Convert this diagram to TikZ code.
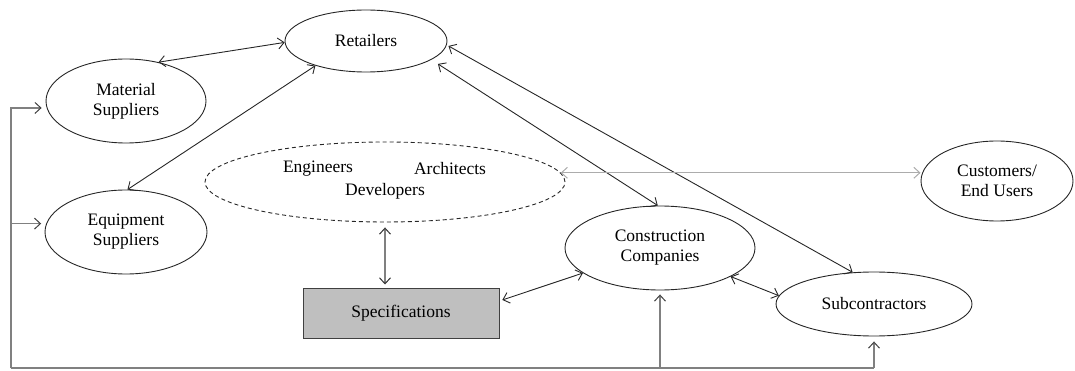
\documentclass[tikz,border=0pt]{standalone}
\usepackage{fontspec}
\setmainfont{Liberation Serif}
\usetikzlibrary{arrows.meta,shapes.geometric}

\tikzset{
  actor/.style={ellipse, draw=black!85, line width=0.9pt, inner sep=0pt,
    align=center, font=\fontsize{17.5pt}{20pt}\selectfont},
  group/.style={ellipse, draw=black!85, line width=0.9pt, inner sep=0pt,
    dash pattern=on 4pt off 3pt},
  lbl/.style={inner sep=0pt, font=\fontsize{17.5pt}{20pt}\selectfont},
  doc/.style={rectangle, draw=black!75, line width=1pt, fill=gray!50,
    font=\fontsize{17.5pt}{20pt}\selectfont},
  link/.style={<->, draw=black!85, line width=0.9pt},
  speclink/.style={draw=gray, line width=1.2pt,
    {Straight Barb[length=6pt,width=11pt,line width=1pt,color=black!80]}-{Straight Barb[length=6pt,width=11pt,line width=1pt,color=black!80]}},
  userlink/.style={<->, draw=gray!65, line width=1pt},
  bus/.style={draw=gray, line width=1.5pt},
  feed/.style={draw=gray, line width=1.5pt,
    -{Straight Barb[length=6pt,width=11pt,line width=1pt,color=black!75]}},
}

\begin{document}
\begin{tikzpicture}[x=1pt, y=-1pt, >={Straight Barb[length=6pt,width=11pt]}]
\useasboundingbox (0,0) rectangle (1075,371);

% parties of the supply chain
\node[actor, minimum width=162pt, minimum height=62pt] (ret) at (366,41) {Retailers};
\node[actor, minimum width=160pt, minimum height=84pt] (mat) at (126,101) {Material\\Suppliers};
\node[actor, minimum width=162pt, minimum height=84pt] (equ) at (126,232) {Equipment\\Suppliers};
\node[group, minimum width=360pt, minimum height=80pt] (devs) at (385,182) {};
\node[lbl] (eng) at (318,169) {Engineers};
\node[lbl] (arch) at (450,169) {Architects};
\node[lbl] (dev) at (385,191) {Developers};
\node[actor, minimum width=152pt, minimum height=80pt] (cust) at (997,181) {Customers/\\End Users};
\node[actor, minimum width=190pt, minimum height=84pt] (cc) at (660,248) {Construction\\Companies};
\node[actor, minimum width=196pt, minimum height=64pt] (sub) at (874,304) {Subcontractors};
\node[doc, minimum width=196pt, minimum height=50pt] (spec) at (401,313) {Specifications};

% two-way relations
\draw[link] (mat.50) -- (ret.181);
\draw[link] (equ.88) -- (ret.206);
\draw[link] ([shift={(5,5)}]ret.345) -- (cc.93);
\draw[link] ([shift={(3,-2)}]ret.355) -- (sub.124);
\draw[link] (cc.338) -- (sub.175);
\draw[link, shorten <=3pt] (spec.7) -- (cc.198);
\draw[speclink, shorten <=5pt, shorten >=3pt] (devs.south) -- (devs.south |- spec.north);
\draw[userlink] (devs.3) -- (devs.3 -| cust.west);

% feedback bus along the bottom and left side
\coordinate (busL) at (11,368);
\draw[bus] (busL) -- (sub.south |- busL);
\draw[feed, shorten >=5pt] (busL) |- (mat.185);
\draw[feed, shorten >=5pt] (busL) |- (equ.174);
\draw[feed, shorten >=4pt] (cc.south |- busL) -- (cc.south);
\draw[feed, shorten >=5pt] (sub.south |- busL) -- (sub.south);
\end{tikzpicture}
\end{document}
